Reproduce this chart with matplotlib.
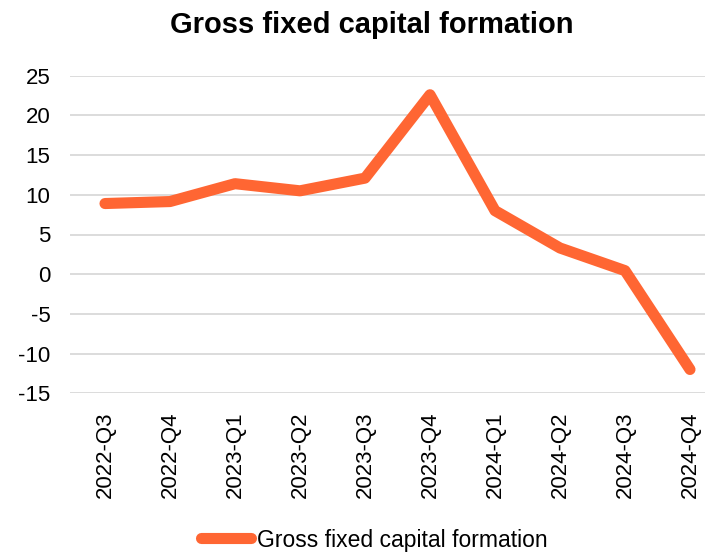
import matplotlib.pyplot as plt

plt.rcParams['font.family'] = ['Liberation Sans', 'DejaVu Sans']
plt.rcParams['axes.unicode_minus'] = False

quarters = ['2022-Q3', '2022-Q4', '2023-Q1', '2023-Q2', '2023-Q3',
            '2023-Q4', '2024-Q1', '2024-Q2', '2024-Q3', '2024-Q4']
gfcf = [8.9, 9.15, 11.4, 10.5, 12.1, 22.6, 8.0, 3.3, 0.45, -12.0]
yticks = [-15, -10, -5, 0, 5, 10, 15, 20, 25]

fig = plt.figure(figsize=(7.05, 5.52), dpi=100)
ax = fig.add_axes([70/705, 1-393.3/552, 635/705, (393.3-75.7)/552])

x = list(range(len(quarters)))
ax.plot(x, gfcf, color='#FF6633', lw=8, solid_capstyle='round',
        solid_joinstyle='round', label='Gross fixed capital formation', zorder=3)

ax.set_ylim(-15, 25)
ax.set_yticks(yticks)
ax.set_xlim(-35/65, 600/65)
ax.set_xticks(x)
ax.set_xticklabels(quarters, rotation=90)
ax.tick_params(axis='both', length=0, labelsize=16)
ax.tick_params(axis='y', pad=14)
ax.tick_params(axis='x', pad=13)
ax.grid(axis='y', color='#d9d9d9', lw=1.3)
for s in ax.spines.values():
    s.set_visible(False)

fig.suptitle('Gross fixed capital formation', fontsize=21, fontweight='bold',
             x=372/705, y=1-25/552, va='center')
fig.legend(loc='center', bbox_to_anchor=(374/705, 1-540/552), frameon=False,
           fontsize=16.5, handlelength=2.2, handletextpad=0.25)

fig.savefig('out.png', dpi=100)
